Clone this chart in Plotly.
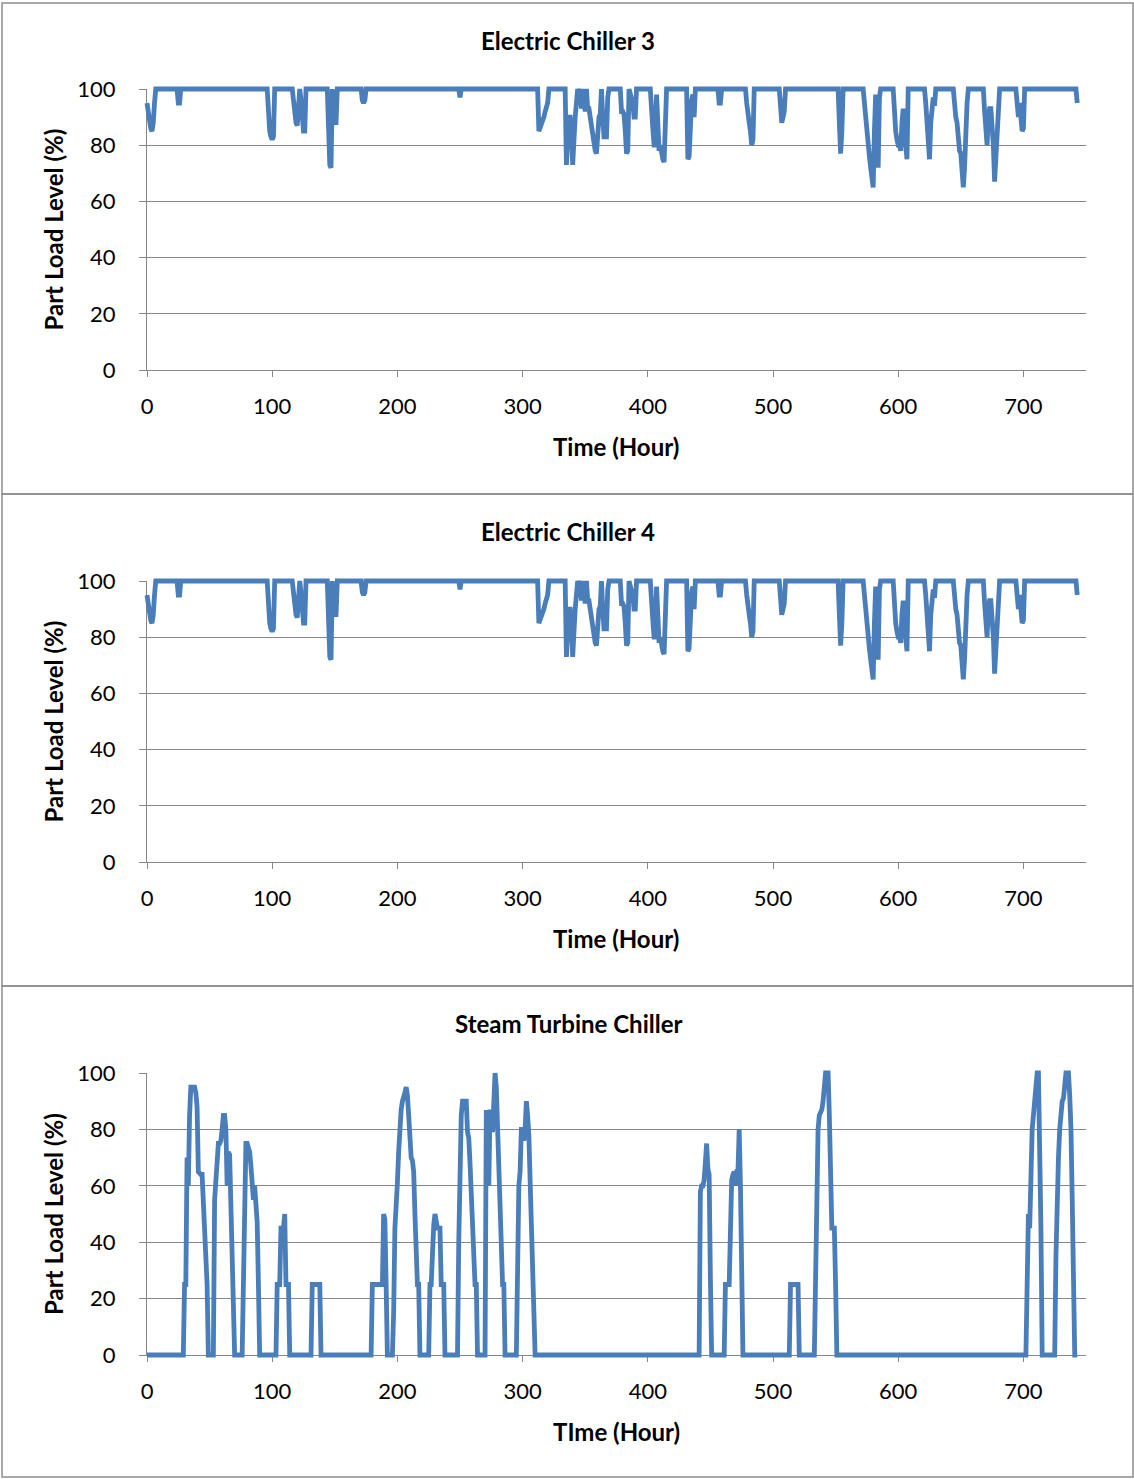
import plotly.graph_objects as go

# ---------------- data ----------------
chiller3_hours = [0, 1, 2, 3, 4, 5, 6, 7, 24, 25, 26, 27, 96, 97, 98, 99, 100, 101, 102,
                  116, 117, 118, 119, 120, 121, 122, 123, 124, 125, 126, 127,
                  144, 145, 146, 147, 148, 149, 150, 151, 152, 171, 172, 173, 174, 175,
                  249, 250, 251, 312, 313, 314, 315, 316, 317, 318, 319, 320, 321,
                  334, 335, 336, 337, 338, 339, 340, 341, 342, 343, 344, 345, 346, 347, 348,
                  349, 350, 351, 352, 353, 354, 355, 356, 357, 358, 359, 360, 361, 362, 363,
                  364, 365, 366, 367, 368, 369, 378, 379, 380, 381, 382, 383, 384, 385,
                  388, 389, 390, 391, 402, 403, 404, 405, 406, 407, 408, 409, 410, 411, 412,
                  413, 414, 415, 431, 432, 433, 434, 435, 436, 437, 438, 456, 457, 458, 459,
                  478, 479, 480, 481, 482, 483, 484, 485, 505, 506, 507, 508, 509, 510,
                  552, 553, 554, 555, 556, 572, 573, 574, 575, 576, 577, 578, 579, 580, 581,
                  582, 583, 584, 585, 586, 596, 597, 598, 599, 600, 601, 602, 603, 604, 605,
                  606, 607, 608, 621, 622, 623, 624, 625, 626, 627, 628, 629, 630,
                  644, 645, 646, 647, 648, 649, 650, 651, 652, 653, 654, 655, 656,
                  668, 669, 670, 671, 672, 673, 674, 675, 676, 677, 678, 679, 680, 681,
                  694, 695, 696, 697, 698, 699, 700, 701, 742, 743]
chiller3_load = [95, 92, 88, 86, 85, 88, 95, 100, 100, 95, 95, 100, 100, 90, 85, 83, 82, 83, 100,
                 100, 95, 91, 88, 87, 95, 100, 96, 91, 85, 85, 100,
                 100, 80, 73, 72, 100, 88, 88, 88, 100, 100, 96, 95, 96, 100,
                 100, 97, 100, 100, 85, 86, 87, 88, 90, 92, 93, 95, 100,
                 100, 73, 80, 90, 90, 85, 73, 87, 90, 95, 100, 98, 100, 93, 100,
                 95, 92, 100, 93, 93, 90, 88, 85, 80, 78, 77, 88, 90, 91, 100,
                 90, 83, 83, 83, 97, 100, 100, 92, 92, 91, 85, 77, 78, 100,
                 95, 90, 90, 100, 100, 95, 86, 80, 80, 98, 80, 78, 80, 77, 75,
                 74, 85, 100, 100, 75, 76, 88, 96, 98, 90, 100, 100, 95, 95, 100,
                 100, 95, 90, 88, 85, 80, 82, 100, 100, 92, 88, 90, 92, 100,
                 100, 88, 77, 85, 100, 100, 95, 87, 85, 80, 76, 72, 68, 65, 85,
                 98, 95, 72, 97, 100, 100, 90, 85, 82, 80, 80, 78, 88, 93, 85,
                 78, 75, 100, 100, 95, 87, 82, 75, 88, 95, 97, 94, 100,
                 100, 92, 90, 88, 80, 78, 77, 72, 65, 72, 88, 95, 100,
                 100, 92, 85, 80, 90, 93, 93, 88, 80, 67, 75, 90, 95, 100,
                 100, 92, 90, 95, 88, 85, 86, 100, 100, 95]

# Electric Chiller 4 shows the same readings as Electric Chiller 3
chiller4_hours = list(chiller3_hours)
chiller4_load = list(chiller3_load)

steam_hours = [0, 29, 30, 31, 32, 33, 34, 35, 36, 37, 38, 39, 40, 41, 42, 43, 44, 45, 46, 47, 48, 49,
               53, 54, 55, 56, 57, 58, 59, 60, 61, 62, 63, 64, 65, 66, 67, 68, 69, 70,
               76, 77, 78, 79, 80, 81, 82, 83, 84, 85, 86, 87, 88, 89, 90,
               103, 104, 105, 106, 107, 108, 109, 110, 111, 112, 113, 114,
               131, 132, 138, 139, 179, 180, 188, 189, 190, 191, 192,
               196, 197, 198, 199, 200, 201, 202, 203, 204, 205, 206, 207, 208, 209, 210,
               211, 212, 213, 214, 215, 216, 217, 218,
               225, 226, 227, 228, 229, 230, 231, 232, 233, 234, 235, 236, 237, 238,
               248, 249, 250, 251, 252, 253, 254, 255, 256, 257, 258, 259, 260, 261, 262, 263, 264,
               270, 271, 272, 273, 274, 275, 276, 277, 278, 279, 280, 281, 282, 283, 284, 285, 286,
               295, 296, 297, 298, 299, 300, 301, 302, 303, 304, 305, 306, 307, 308, 309, 310,
               441, 442, 443, 444, 445, 446, 447, 448, 449, 450, 451,
               461, 462, 465, 466, 467, 468, 469, 470, 471, 472, 473, 474, 475, 476,
               513, 514, 520, 521,
               533, 534, 535, 536, 537, 538, 539, 540, 541, 542, 543, 544, 545, 546, 547, 548, 549, 550, 551,
               702, 703, 704, 705, 706, 707, 708, 709, 710, 711, 712, 713, 714, 715,
               725, 726, 727, 728, 729, 730, 731, 732, 733, 734, 735, 736, 737, 738, 739, 740, 741, 743]
steam_load = [0, 0, 25, 25, 70, 60, 85, 95, 95, 95, 95, 93, 88, 65, 64, 64, 64, 52, 40, 27, 25, 0,
              0, 55, 62, 70, 75, 75, 76, 80, 85, 85, 80, 60, 72, 71, 55, 35, 15, 0,
              0, 30, 60, 75, 75, 74, 72, 67, 56, 55, 60, 52, 47, 25, 0,
              0, 25, 25, 25, 45, 45, 45, 50, 25, 25, 25, 0,
              0, 25, 25, 0, 0, 25, 25, 50, 48, 25, 0,
              0, 15, 45, 60, 61, 72, 83, 87, 90, 91, 93, 95, 92, 85, 72,
              70, 69, 65, 50, 37, 25, 25, 0,
              0, 25, 25, 40, 46, 50, 48, 45, 45, 45, 25, 25, 25, 0,
              0, 40, 80, 85, 90, 90, 90, 90, 79, 77, 68, 57, 47, 44, 25, 25, 0,
              0, 86, 86, 60, 87, 85, 79, 90, 100, 95, 78, 75, 58, 42, 25, 25, 0,
              0, 40, 60, 65, 80, 80, 76, 80, 90, 85, 78, 62, 45, 30, 12, 0,
              0, 58, 60, 60, 62, 70, 75, 66, 64, 27, 0,
              0, 25, 25, 60, 62, 64, 65, 60, 65, 65, 80, 60, 30, 0,
              0, 25, 25, 0,
              0, 30, 60, 80, 85, 86, 87, 90, 97, 100, 100, 100, 85, 65, 45, 45, 45, 25, 0,
              0, 25, 50, 45, 65, 80, 85, 89, 95, 100, 100, 80, 45, 0,
              0, 35, 60, 70, 80, 86, 90, 91, 97, 100, 100, 100, 92, 80, 55, 30, 0, 0]

panel_titles = ["Electric Chiller 3", "Electric Chiller 4", "Steam Turbine Chiller"]
x_titles = ["Time (Hour)", "Time (Hour)", "TIme (Hour)"]
y_title = "Part Load Level (%)"
x_ticks = [0, 100, 200, 300, 400, 500, 600, 700]
y_ticks = [0, 20, 40, 60, 80, 100]
series = [(chiller3_hours, chiller3_load), (chiller4_hours, chiller4_load), (steam_hours, steam_load)]

# ---------------- layout geometry (pixels) ----------------
W, H = 1134, 1479
LEFT, RIGHT = 147, 1086
TOPS = [89, 581, 1073]
BOTTOMS = [370, 862, 1355]
BOX = [(3, 494), (494, 986), (986, 1477)]
X_MAX = 750
PAD = 9

FONT = "Lato"
GRID = "#878787"
LINE = "#4A7EBB"

fig = go.Figure()
layout = dict(width=W, height=H, margin=dict(l=0, r=0, t=0, b=0, autoexpand=False), autosize=False,
              paper_bgcolor="white", plot_bgcolor="rgba(0,0,0,0)", showlegend=False,
              annotations=[], shapes=[])

for i in range(3):
    top, bot = TOPS[i], BOTTOMS[i]
    ax = i + 1          # visible axes
    dx = i + 4          # hidden data axes
    xd = [LEFT / W, RIGHT / W]
    yd = [1 - bot / H, 1 - top / H]
    layout[f"xaxis{ax}"] = dict(domain=xd, range=[0, X_MAX], anchor=f"y{ax}", automargin=False,
                                tickvals=x_ticks, ticks="outside", ticklen=6, tickwidth=1.3,
                                tickcolor=GRID, showline=True, linecolor=GRID, linewidth=1.3,
                                showgrid=False, zeroline=False, fixedrange=True,
                                tickfont=dict(family=FONT, size=22, color="black"),
                                ticklabelstandoff=10)
    layout[f"yaxis{ax}"] = dict(domain=yd, range=[0, 100], anchor=f"x{ax}", automargin=False,
                                tickvals=y_ticks, ticks="outside", ticklen=7, tickwidth=1.3,
                                tickcolor=GRID, showline=True, linecolor=GRID, linewidth=1.3,
                                showgrid=True, gridcolor=GRID, gridwidth=1.3, zeroline=False,
                                fixedrange=True,
                                tickfont=dict(family=FONT, size=22, color="black"),
                                ticklabelstandoff=19)
    # hidden data axes with the same scale but a little extra room so the thick line is not clipped
    pxh = (RIGHT - LEFT) / X_MAX
    pyu = (bot - top) / 100
    layout[f"xaxis{dx}"] = dict(domain=[(LEFT - PAD) / W, (RIGHT + PAD) / W], automargin=False,
                                range=[-PAD / pxh, X_MAX + PAD / pxh], anchor=f"y{dx}",
                                visible=False, showgrid=False, zeroline=False)
    layout[f"yaxis{dx}"] = dict(domain=[1 - (bot + PAD) / H, 1 - (top - PAD) / H], automargin=False,
                                range=[-PAD / pyu, 100 + PAD / pyu], anchor=f"x{dx}",
                                visible=False, showgrid=False, zeroline=False)
    hrs, vals = series[i]
    # invisible copy on the visible axes so that the frame, grid and ticks are drawn
    fig.add_trace(go.Scatter(x=hrs, y=vals, mode="lines", xaxis=f"x{ax}", yaxis=f"y{ax}",
                             line=dict(color="rgba(0,0,0,0)", width=0), hoverinfo="skip"))
    fig.add_trace(go.Scatter(x=hrs, y=vals, mode="lines", xaxis=f"x{dx}", yaxis=f"y{dx}",
                             line=dict(color=LINE, width=4.8), hoverinfo="skip"))

    b0, b1 = BOX[i]
    layout["shapes"].append(dict(type="rect", xref="paper", yref="paper",
                                 x0=2 / W, x1=1133 / W, y0=1 - b1 / H, y1=1 - b0 / H,
                                 line=dict(color="#8c8c8c", width=1.5), fillcolor="rgba(0,0,0,0)"))
    off = b0 - 3
    layout["annotations"].append(dict(text=f"<b>{panel_titles[i]}</b>", xref="paper", yref="paper",
                                      x=568 / W, y=1 - (40 + off) / H, showarrow=False,
                                      xanchor="center", yanchor="middle",
                                      font=dict(family=FONT, size=24, color="black")))
    layout["annotations"].append(dict(text=f"<b>{x_titles[i]}</b>", xref="paper", yref="paper",
                                      x=616 / W, y=1 - (bot + 76) / H, showarrow=False,
                                      xanchor="center", yanchor="middle",
                                      font=dict(family=FONT, size=24, color="black")))
    layout["annotations"].append(dict(text=f"<b>{y_title}</b>", xref="paper", yref="paper",
                                      x=53 / W, y=1 - ((top + bot) / 2) / H, showarrow=False,
                                      xanchor="center", yanchor="middle", textangle=-90,
                                      font=dict(family=FONT, size=24, color="black")))

fig.update_layout(**layout)
fig.write_html("out.html")
